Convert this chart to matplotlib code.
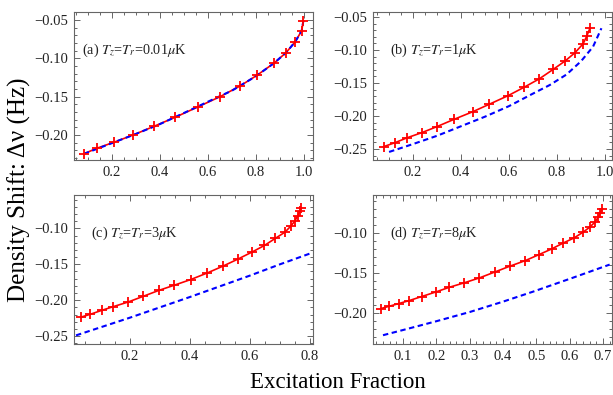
import matplotlib
matplotlib.use("Agg")
import matplotlib.pyplot as plt
from matplotlib.ticker import MultipleLocator, FuncFormatter

plt.rcParams['font.family'] = ['Liberation Serif', 'DejaVu Serif']
plt.rcParams['mathtext.fontset'] = 'stix'
plt.rcParams['axes.unicode_minus'] = True

# ---- data ----
# (a) Tz = Tr = 0.01 uK
a_red_x = [0.083, 0.136, 0.208, 0.289, 0.375, 0.4625, 0.557, 0.65, 0.733,
           0.805, 0.875, 0.925, 0.9625, 0.99, 0.997]
a_red_y = [-0.2245, -0.2173, -0.2094, -0.1998, -0.1886, -0.1769, -0.1634,
           -0.1500, -0.1361, -0.1218, -0.1062, -0.0925, -0.0786, -0.0639, -0.0509]
a_blue_x = [0.083, 0.2, 0.3, 0.4, 0.5, 0.6, 0.7, 0.8, 0.875, 0.925, 0.9625, 0.99, 0.997]
a_blue_y = [-0.2245, -0.2105, -0.1985, -0.1857, -0.1712, -0.1565, -0.1420, -0.1232,
            -0.1062, -0.0925, -0.0786, -0.0639, -0.0509]

# (b) Tz = Tr = 1 uK
b_red_x = [0.077, 0.125, 0.176, 0.236, 0.299, 0.371, 0.449, 0.517, 0.597,
           0.6625, 0.726, 0.785, 0.834, 0.875, 0.909, 0.924, 0.937]
b_red_y = [-0.2465, -0.2404, -0.2329, -0.2253, -0.2162, -0.2050, -0.1935,
           -0.1823, -0.1690, -0.1565, -0.1437, -0.1291, -0.1165, -0.1040,
           -0.0904, -0.0788, -0.0671]
b_blue_x = [0.10, 0.2, 0.3, 0.4, 0.5, 0.6, 0.7, 0.77, 0.84, 0.9, 0.95, 0.985]
b_blue_y = [-0.2545, -0.2425, -0.230, -0.2155, -0.201, -0.185, -0.166,
            -0.153, -0.137, -0.117, -0.095, -0.067]

# (c) Tz = Tr = 3 uK
c_red_x = [0.037, 0.067, 0.106, 0.144, 0.194, 0.244, 0.297, 0.347, 0.402,
           0.458, 0.509, 0.559, 0.606, 0.648, 0.684, 0.717, 0.736, 0.750,
           0.759, 0.767, 0.770]
c_red_y = [-0.2235, -0.2197, -0.2141, -0.2090, -0.2025, -0.1946, -0.1862,
           -0.1792, -0.1713, -0.1620, -0.1527, -0.1429, -0.1331, -0.1238,
           -0.1140, -0.1051, -0.0968, -0.0894, -0.0824, -0.0754, -0.0716]
c_blue_x = [0.02, 0.2, 0.4, 0.6, 0.7, 0.8]
c_blue_y = [-0.249, -0.2243, -0.1955, -0.1657, -0.150, -0.135]

# (d) Tz = Tr = 8 uK
d_red_x = [0.034, 0.059, 0.087, 0.119, 0.156, 0.199, 0.239, 0.283, 0.329,
           0.376, 0.420, 0.467, 0.508, 0.546, 0.581, 0.613, 0.641, 0.661,
           0.676, 0.686, 0.691, 0.698]
d_red_y = [-0.1946, -0.1917, -0.1884, -0.1846, -0.1796, -0.1738, -0.1680,
           -0.1625, -0.1563, -0.1488, -0.1417, -0.1346, -0.1271, -0.1200,
           -0.1125, -0.1063, -0.0988, -0.0925, -0.0863, -0.0800, -0.0750, -0.0696]
d_blue_x = [0.04, 0.1, 0.2, 0.3, 0.4, 0.49, 0.61, 0.72]
d_blue_y = [-0.228, -0.2215, -0.2105, -0.199, -0.186, -0.1735, -0.156, -0.1396]

labels = [r"(a) $T_z$=$T_r$=0.01$\mu$K", r"(b) $T_z$=$T_r$=1$\mu$K",
          r"(c) $T_z$=$T_r$=3$\mu$K", r"(d) $T_z$=$T_r$=8$\mu$K"]

W, H = 613, 395
fig = plt.figure(figsize=(W / 100, H / 100), dpi=100)


def px_axes(left, top, right, bottom):
    return fig.add_axes([left / W, 1 - bottom / H, (right - left) / W, (bottom - top) / H])


panels = [
    (px_axes(74, 12, 313, 160), a_red_x, a_red_y, a_blue_x, a_blue_y,
     (0.042, 1.037), (-0.2325, -0.0396), 0.2, 0.05, (82, 50)),
    (px_axes(373, 12, 612, 160), b_red_x, b_red_y, b_blue_x, b_blue_y,
     (0.033, 1.029), (-0.2667, -0.0424), 0.2, 0.05, (390, 50)),
    (px_axes(74, 195, 313, 344), c_red_x, c_red_y, c_blue_x, c_blue_y,
     (0.0133, 0.81), (-0.261, -0.0535), 0.2, 0.05, (91, 233)),
    (px_axes(373, 195, 612, 344), d_red_x, d_red_y, d_blue_x, d_blue_y,
     (0.01, 0.727), (-0.239, -0.0525), 0.1, 0.05, (390, 233)),
]

frame_col = '#666666'
xfmt = FuncFormatter(lambda v, p: f"{v:.1f}")
yfmt = FuncFormatter(lambda v, p: f"{v:.2f}".replace('-', '\u2212'))

for i, (ax, rx, ry, bx, by, xl, yl, xmaj, ymaj, lab) in enumerate(panels):
    ax.plot(rx, ry, color='red', lw=1.2, zorder=2)
    ax.plot(bx, by, color='blue', lw=1.5, dashes=(2.6, 1.7), zorder=3)
    ax.plot(rx, ry, ls='none', marker='+', ms=7.5, mew=1.3, color='red', zorder=4)
    ax.set_xlim(*xl)
    ax.set_ylim(*yl)
    ax.xaxis.set_major_locator(MultipleLocator(xmaj))
    ax.xaxis.set_minor_locator(MultipleLocator(xmaj / (4 if xmaj == 0.2 else 5)))
    ax.yaxis.set_major_locator(MultipleLocator(ymaj))
    ax.yaxis.set_minor_locator(MultipleLocator(0.01))
    ax.xaxis.set_major_formatter(xfmt)
    ax.yaxis.set_major_formatter(yfmt)
    ax.tick_params(which='both', direction='in', top=True, right=True,
                   color=frame_col, labelsize=10.5, labelcolor='#222222', width=0.7)
    ax.tick_params(which='major', length=4, pad=4)
    ax.tick_params(which='minor', length=2)
    for s in ax.spines.values():
        s.set_color(frame_col)
        s.set_linewidth(0.8)
    fig.text(lab[0] / W, 1 - lab[1] / H, labels[i], fontsize=10.3, color='#222222',
             ha='left', va='center')

fig.text(338 / W, 1 - 382 / H, "Excitation Fraction", fontsize=16.5,
         ha='center', va='center')
fig.text(19 / W, 1 - 190 / H, "Density Shift: \u0394\u03bd (Hz)", fontsize=18,
         rotation=90, ha='center', va='center')

fig.savefig("out.png", dpi=100)
